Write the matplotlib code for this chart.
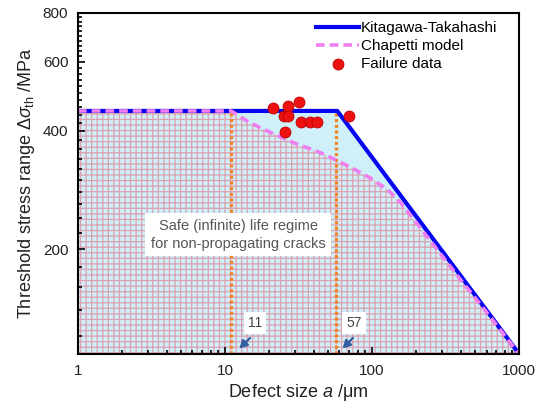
import matplotlib
matplotlib.use("Agg")
import matplotlib.pyplot as plt
from matplotlib.ticker import FixedLocator, NullFormatter, LogLocator, FixedFormatter

plt.rcParams['font.family'] = ['Liberation Sans', 'DejaVu Sans']
plt.rcParams['mathtext.fontset'] = 'custom'
plt.rcParams['mathtext.rm'] = 'Liberation Sans'
plt.rcParams['mathtext.it'] = 'Liberation Sans:italic'
plt.rcParams['hatch.linewidth'] = 0.9

# ---- data ----
kt_a = [1, 58, 1000]
kt_s = [450, 450, 108]

ch_a = [1, 11, 14, 18, 24, 31, 40, 47, 61, 75, 98, 128, 157, 192, 251, 320, 400, 600, 1000]
ch_s = [450, 450, 425, 405, 386, 370, 358, 349, 333, 320, 303, 283, 262, 238, 209, 186, 167, 138, 108]

fail_a = [21.3, 26.6, 31.6, 25.0, 27.0, 32.6, 38.1, 41.9, 25.4, 69.2]
fail_s = [459, 462, 475, 438, 438, 421, 421, 421, 397, 438]

crit_a = [11, 57]
crit_labels = ['11', '57']
plateau = 450

x_ticks = [1, 10, 100, 1000]
x_ticklabels = ['1', '10', '100', '1000']
y_ticks = [200, 400, 600, 800]
y_ticklabels = ['200', '400', '600', '800']
y_min, y_max = 108, 800

fig = plt.figure(figsize=(5.4, 4.05), dpi=100)
ax = fig.add_axes([0.1444, 0.126, 0.817, 0.842])
ax.set_xscale('log')
ax.set_yscale('log')
ax.set_xlim(1, 1000)
ax.set_ylim(y_min, y_max)

# fills
ax.fill_between(kt_a, y_min, kt_s, color='#d0f0f9', linewidth=0, zorder=1)
ax.fill_between(ch_a, y_min, ch_s, facecolor='none', edgecolor='#dca2b2',
                hatch='+++', linewidth=0, zorder=1.5)

# critical size lines
for a in crit_a:
    ax.plot([a, a], [y_min, plateau], color='#f5821f', lw=2.4,
            linestyle=(0, (0.9, 0.8)), zorder=2)

# curves
ax.plot(kt_a, kt_s, color='#0505f0', lw=3.0, zorder=3, label='Kitagawa-Takahashi')
ax.plot(ch_a, ch_s, color='#f07ef0', lw=2.6, linestyle=(0, (2.4, 1.4)), zorder=4,
        label='Chapetti model')
ax.scatter(fail_a, fail_s, s=62, color='#ee1111', edgecolors='#c00000',
           linewidths=0.6, zorder=5, label='Failure data')

# text box
ax.text(0.363, 0.35, 'Safe (infinite) life regime\nfor non-propagating cracks',
        transform=ax.transAxes, ha='center', va='center', fontsize=10.5,
        color='#555555', linespacing=1.35,
        bbox=dict(facecolor='white', edgecolor='none', pad=4), zorder=6)

# labels for critical sizes
for lbl, tx, ax0, ay0, ax1, ay1 in [(crit_labels[0], 0.401, 0.390, 0.047, 0.366, 0.016),
                                     (crit_labels[1], 0.626, 0.623, 0.047, 0.600, 0.016)]:
    ax.text(tx, 0.091, lbl, transform=ax.transAxes, ha='center', va='center',
            fontsize=10, color='#444444',
            bbox=dict(facecolor='white', edgecolor='none', pad=3), zorder=6)
    ax.annotate('', xy=(ax1, ay1), xytext=(ax0, ay0), xycoords='axes fraction',
                textcoords='axes fraction',
                arrowprops=dict(arrowstyle='-|>,head_length=0.45,head_width=0.25',
                                color='#2f5f9f', lw=1.6, shrinkA=0, shrinkB=0), zorder=6)

# ticks
ax.xaxis.set_major_locator(FixedLocator(x_ticks))
ax.xaxis.set_major_formatter(FixedFormatter(x_ticklabels))
ax.xaxis.set_minor_locator(LogLocator(base=10, subs=range(2, 10)))
ax.xaxis.set_minor_formatter(NullFormatter())
ax.yaxis.set_major_locator(FixedLocator(y_ticks))
ax.yaxis.set_major_formatter(FixedFormatter(y_ticklabels))
ax.yaxis.set_minor_locator(FixedLocator(list(range(120, 800, 20))))
ax.yaxis.set_minor_formatter(NullFormatter())
ax.tick_params(which='both', direction='in', top=False, right=False,
               labelsize=11, labelcolor='#222222', width=1.2)
ax.tick_params(which='major', length=5, pad=7)
ax.tick_params(which='minor', length=3)
for sp in ax.spines.values():
    sp.set_linewidth(1.5)
    sp.set_zorder(7)

ax.set_xlabel('Defect size $a$ /μm', fontsize=13, color='#222222', labelpad=3)
ax.set_ylabel('Threshold stress range Δ$\\sigma_{\\rm th}$ /MPa', fontsize=13,
              color='#222222', labelpad=4)

leg = ax.legend(loc='upper left', bbox_to_anchor=(0.54, 0.975), frameon=False,
                fontsize=11, handlelength=2.8, handletextpad=0.1,
                labelspacing=0.25, borderpad=0, borderaxespad=0)

fig.savefig('out.png', dpi=100)
